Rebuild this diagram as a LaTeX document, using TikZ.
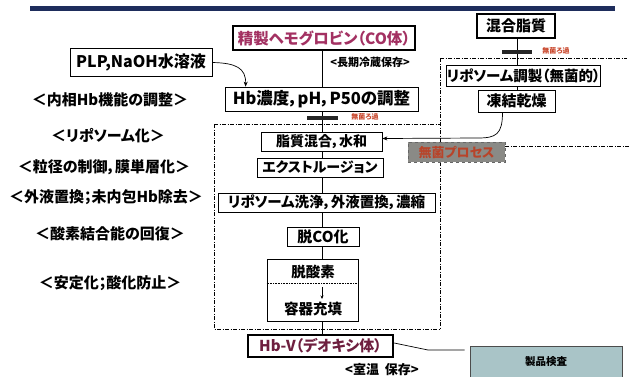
\documentclass[tikz,border=0pt]{standalone}
\usepackage{fontspec}
\setmainfont{Noto Sans CJK JP}[CharacterWidth=AlternateProportional]
\usetikzlibrary{arrows.meta}
\definecolor{navy}{HTML}{1E2D5C}
\definecolor{mag}{HTML}{A33162}
\definecolor{maroon}{HTML}{6E1F3F}
\definecolor{filt}{HTML}{C8452A}
\definecolor{sterg}{HTML}{8A8A86}
\definecolor{sterr}{HTML}{B8442A}
\definecolor{prodc}{HTML}{A9C4C7}
\begin{document}
\begin{tikzpicture}[x=1pt,y=-1pt,
  box/.style={draw, line width=0.8pt, fill=white, inner sep=0pt, font=\bfseries\fontsize{14}{14}\selectfont},
  thickbox/.style={box, line width=2.4pt},
  txt/.style={inner sep=0pt, font=\bfseries\fontsize{14.5}{14.5}\selectfont},
  lbl/.style={inner sep=0pt, font=\bfseries\fontsize{15}{15}\selectfont},
  small/.style={inner sep=0pt, font=\bfseries\fontsize{11}{11}\selectfont},
  tiny/.style={inner sep=0pt, text=filt, font=\bfseries\fontsize{7}{7}\selectfont},
  dd/.style={line width=0.7pt, dash pattern=on 4pt off 1.5pt on 1pt off 1.5pt},
  conn/.style={line width=0.7pt},
  arr/.style={conn, -{Stealth[length=5pt,width=4pt]}},
  fbar/.style={line width=4pt, black!85}
]
\useasboundingbox (0,0) rectangle (629,376);
% top bar
\draw[navy, line width=5pt] (30,8) -- (615,8);

% dash-dot frames
\draw[dd] (214,124) -- (440,124);
\draw[dd] (214,124) -- (214,329) -- (440,329);
\draw[dd] (440,58) -- (440,329);
\draw[dd] (440,58) -- (627,58);

% left labels
\node[lbl] (l1) at (110,100) {＜内相Hb機能の調整＞};
\node[lbl] (l2) at (108,136) {＜リポソーム化＞};
\node[lbl] (l3) at (104,167) {＜粒径の制御，膜単層化＞};
\node[lbl] (l4) at (106,197) {＜外液置換；未内包Hb除去＞};
\node[lbl] (l5) at (110,234) {＜酸素結合能の回復＞};
\node[lbl] (l6) at (110,283) {＜安定化；酸化防止＞};

% main column
\coordinate (sp) at (322,0);
\node[thickbox, text=mag, minimum width=182pt, minimum height=24pt, font=\bfseries\fontsize{15.5}{15.5}\selectfont] (pure) at (324,38) {精製ヘモグロビン（CO体）};
\node[small] (cold) at (370,62) {<長期冷蔵保存>};
\node[box, minimum width=142pt, minimum height=28pt, font=\bfseries\fontsize{16}{16}\selectfont] (plp) at (141,62.5) {PLP,NaOH水溶液};
\node[box, minimum width=193pt, minimum height=24pt, font=\bfseries\fontsize{16.5}{16.5}\selectfont] (hb) at (321.5,99) {Hb濃度，pH，P50の調整};
\node[box, minimum width=121pt, minimum height=19pt] (lip) at (321.5,141.5) {脂質混合，水和};
\node[box, minimum width=126pt, minimum height=19pt] (ext) at (320,167.5) {エクストルージョン};
\node[box, minimum width=217pt, minimum height=19pt, font=\bfseries\fontsize{14.5}{14.5}\selectfont] (wash) at (326.5,202.5) {リポソーム洗浄，外液置換，濃縮};
\node[box, minimum width=72pt, minimum height=19pt, font=\bfseries\fontsize{15}{15}\selectfont] (deco) at (323,236.5) {脱CO化};
\node[box, minimum width=91pt, minimum height=62pt] (deox) at (312.5,290) {};
\node[txt] (t1) at (313,272) {脱酸素};
\node[txt] (t2) at (313,309) {容器充填};
\draw[line width=0.6pt, densely dotted] (deox.west |- 0,283) -- (deox.east |- 0,283);
\coordinate (a1) at (322,287);
\coordinate (a2) at (322,299);
\draw[conn, -{Stealth[length=3.5pt,width=3pt]}] (a1) -- (a2);
\node[thickbox, text=maroon, minimum width=145pt, minimum height=22pt, font=\bfseries\fontsize{15}{15}\selectfont] (hbv) at (320.5,346) {Hb-V（デオキシ体）};
\node[small, font=\bfseries\fontsize{13}{13}\selectfont] (room) at (382,370) {<室温\ \ 保存>};

% spine connectors
\draw[conn] (pure.south -| sp) -- (hb.north -| sp);
\draw[conn] (hb.south -| sp) -- (lip.north -| sp);
\draw[conn] (lip.south -| sp) -- (ext.north -| sp);
\draw[conn] (ext.south -| sp) -- (wash.north -| sp);
\draw[conn] (wash.south -| sp) -- (deco.north -| sp);
\draw[conn] (deco.south -| sp) -- (deox.north -| sp);
\draw[conn] (deox.south -| sp) -- (hbv.north -| sp);

% left filter
\draw[fbar] (307,118) -- (338,118);
\node[tiny] (f1) at (365,117) {無菌ろ過};

% PLP arrow
\draw[arr] (plp.east) .. controls (236,63) and (246,68) .. ([xshift=21pt]hb.north west);

% right column
\coordinate (rs) at (517,0);
\node[thickbox, minimum width=78pt, minimum height=24pt, font=\bfseries\fontsize{15}{15}\selectfont] (mix) at (516,26) {混合脂質};
\node[box, minimum width=153pt, minimum height=21pt, font=\bfseries\fontsize{14.5}{14.5}\selectfont] (prep) at (523.5,75.5) {リポソーム調製（無菌的）};
\node[box, minimum width=77pt, minimum height=22pt, font=\bfseries\fontsize{15}{15}\selectfont] (fd) at (516.5,101) {凍結乾燥};
\draw[conn] (mix.south -| rs) -- (prep.north -| rs);
\draw[conn] (prep.south -| rs) -- (fd.north -| rs);
\draw[fbar] (502,52) -- (532,52);
\node[tiny] (f2) at (556,51) {無菌ろ過};
\draw[arr] ([xshift=-14pt]fd.south) .. controls +(0,22) and +(18,0) .. (478,138) -- ([yshift=3pt]lip.east);

% sterile process tag
\node[draw=black!60, dashed, line width=0.8pt, fill=sterg, text=sterr, inner sep=0pt, minimum width=97pt, minimum height=20pt, font=\bfseries\fontsize{13}{13}\selectfont] (ster) at (456.5,152) {無菌プロセス};
\draw[dd] (ster.east |- 0,146) -- (629,146);

% product inspection
\node[draw=black!70, fill=prodc, line width=0.6pt, inner sep=0pt, minimum width=152pt, minimum height=32pt, font=\bfseries\fontsize{10.5}{10.5}\selectfont] (prod) at (546,362) {製品検査};
\draw[conn, shorten >=5pt] ([yshift=3pt]hbv.east) -- (428,350) -- ([yshift=12pt]prod.west);
\end{tikzpicture}
\end{document}
